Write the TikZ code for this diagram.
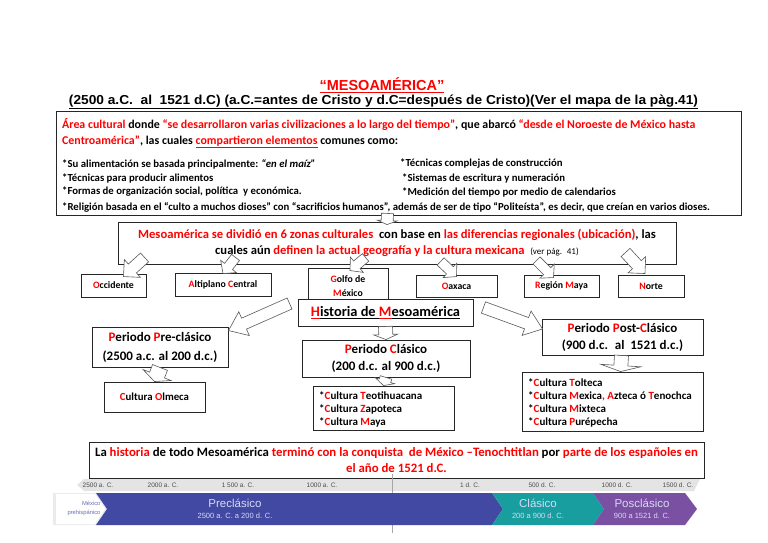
\documentclass[tikz,border=0pt]{standalone}
\usepackage{fontspec}
\usepackage{graphicx}
\setmainfont{Carlito}
\newfontfamily\arialfont{Liberation Sans}
\usetikzlibrary{calc}

\definecolor{azulpre}{RGB}{66,73,162}
\definecolor{verdecla}{RGB}{25,158,160}
\definecolor{moradopos}{RGB}{122,80,163}
\definecolor{grisfranja}{RGB}{228,228,228}
\definecolor{textobanda}{RGB}{214,218,245}

\newcommand{\rd}[1]{\textcolor{red}{#1}}
\newcommand{\fsmain}{\bfseries\fontsize{11.9}{14}\selectfont}
\newcommand{\fsbul}{\bfseries\fontsize{10.75}{12}\selectfont}
\newcommand{\fslista}{\bfseries\fontsize{11}{12}\selectfont}
% hollow block arrow: tail, tip, shaft half width, head half width, head length
\newcommand{\hollowarrow}[5]{%
  \draw[flecha] let \p1=(#1), \p2=(#2),
      \n1={atan2(\y2-\y1,\x2-\x1)}, \n2={veclen(\x2-\x1,\y2-\y1)} in
    [shift={(\p1)}, rotate=\n1]
    (0,#3) -- ({\n2-#5},#3) -- ({\n2-#5},#4) -- (\n2,0)
    -- ({\n2-#5},-#4) -- ({\n2-#5},-#3) -- (0,-#3) -- cycle;
}

\tikzset{
  box/.style={draw=black!85, line width=0.9pt, fill=white, inner sep=0pt,
    align=center, font=\bfseries\fontsize{9.8}{12}\selectfont},
  periodo/.style={box, font=\bfseries\fontsize{13}{17}\selectfont},
  txt/.style={inner sep=0pt, anchor=west},
  flecha/.style={draw=black!65, fill=white, line width=0.6pt},
  tl/.style={inner sep=0pt, text=black!70, font=\arialfont\fontsize{6.5}{7}\selectfont},
  banda/.style={inner sep=0pt, text=textobanda, align=center},
}

\begin{document}
\begin{tikzpicture}[x=1pt, y=-1pt]
\useasboundingbox (0,0) rectangle (768,543);

% Title
\node[inner sep=0pt, text=red, font=\arialfont\bfseries\fontsize{14.5}{16}\selectfont]
  (titulo) at (382,85) {\underline{“MESOAMÉRICA”}};
\node[inner sep=0pt, font=\arialfont\bfseries\fontsize{13}{15}\selectfont]
  (subtitulo) at (383.5,102) {\resizebox{629pt}{\height}{\underline{(2500 a.C.~ al~ 1521 d.C) (a.C.=antes de Cristo y d.C=después de Cristo)(Ver el mapa de la pàg.41)}}};

% Cultural area
\node[box, minimum width=685, minimum height=104] (area) at (398.5,163) {};
\node[txt, font=\fsmain] (l1) at (62,125) {\rd{Área cultural} donde \rd{“se desarrollaron varias civilizaciones a lo largo del tiempo”}, que abarcó \rd{“desde el Noroeste de México hasta}};
\node[txt, font=\fsmain] (l2) at (62,142) {\rd{Centroamérica”}, las cuales \rd{\underline{compartieron elementos}} comunes como:};
\node[txt, font=\fsbul] (b1) at (62,164) {*Su alimentación se basada principalmente: \textit{“en el maíz”}};
\node[txt, font=\fsbul] (b2) at (62,178) {*Técnicas para producir alimentos};
\node[txt, font=\fsbul] (b3) at (62,192) {*Formas de organización social, política~ y económica.};
\node[txt, font=\fsbul] (b4) at (62,207) {*Religión basada en el “culto a muchos dioses” con “sacrificios humanos”, además de ser de tipo “Politeísta”, es decir, que creían en varios dioses.};
\node[txt, font=\fsbul] (b5) at (400,164) {*Técnicas complejas de construcción};
\node[txt, font=\fsbul] (b6) at (402,178) {*Sistemas de escritura y numeración};
\node[txt, font=\fsbul] (b7) at (402,192) {*Medición del tiempo por medio de calendarios};

% Six cultural zones
\node[box, minimum width=558, minimum height=42, font=\bfseries\fontsize{12.6}{16}\selectfont, align=center] (zonas) at (397,243)
  {\rd{Mesoamérica se dividió en 6 zonas culturales}~ con base en \rd{las diferencias regionales (ubicación)}, las\\
   cuales aún \rd{definen la actual geografía y la cultura mexicana}~ {\mdseries\fontsize{9}{10}\selectfont(ver pág.~ 41)}};
\hollowarrow{$(area.south)+(-11,-2)$}{$(zonas.north)+(-10,3)$}{6}{10}{4}

\node[box, minimum width=65, minimum height=23] (occ) at (113.5,285.5) {\rd{O}ccidente};
\node[box, minimum width=96, minimum height=23] (alt) at (223,284.5) {\rd{A}ltiplano \rd{C}entral};
\node[box, minimum width=80, minimum height=36, font=\bfseries\fontsize{9.8}{14}\selectfont] (golfo) at (348,286) {\rd{G}olfo de\\\rd{M}éxico};
\node[box, minimum width=81, minimum height=22] (oax) at (456.5,286) {\rd{O}axaca};
\node[box, minimum width=75, minimum height=22] (maya) at (561.5,286) {\rd{R}egión \rd{M}aya};
\node[box, minimum width=66, minimum height=22] (norte) at (651,286) {\rd{N}orte};

\hollowarrow{$(zonas.south west)+(27,-7)$}{$(occ.north)+(10,3)$}{6}{12}{12}
\hollowarrow{$(zonas.south west)+(118,-7)$}{$(alt.north)+(0,1)$}{5}{10}{9}
\hollowarrow{$(zonas.south west)+(248,-7)$}{$(golfo.north)+(2,3)$}{5}{10}{9}
\hollowarrow{$(zonas.south west)+(323,-3)$}{$(oax.north)+(0,2)$}{5}{10}{9}
\hollowarrow{$(zonas.south west)+(419,-4)$}{$(maya.north)+(-8,3)$}{5}{10}{9}
\hollowarrow{$(zonas.south west)+(508,-12)$}{$(norte.north)+(-6,-1)$}{6}{12}{12}

% History
\node[box, minimum width=175, minimum height=27, font=\bfseries\fontsize{14.4}{18}\selectfont] (hist) at (385.5,312.5)
  {\rd{\underline{H}}\underline{istoria de }\rd{\underline{M}}\underline{esoamérica}};

\node[periodo, minimum width=136, minimum height=40, font=\bfseries\fontsize{13}{19}\selectfont] (pre) at (160,347) {\rd{P}eriodo \rd{P}re-clásico\\(2500 a.c. al 200 d.c.)};
\node[box, minimum width=101, minimum height=30, font=\bfseries\fontsize{10.8}{14}\selectfont] (olmeca) at (154.5,397) {\rd{C}ultura \rd{O}lmeca};

\node[periodo, minimum width=168, minimum height=37] (clas) at (386,358.5) {\rd{P}eriodo \rd{C}lásico\\(200 d.c. al 900 d.c.)};
\node[box, minimum width=141, minimum height=44] (claslista) at (383.5,408) {};
\node[txt, font=\fslista] (c1) at (319,396) {*\rd{C}ultura \rd{T}eotihuacana};
\node[txt, font=\fslista] (c2) at (319,409) {*\rd{C}ultura \rd{Z}apoteca};
\node[txt, font=\fslista] (c3) at (319,422) {*\rd{C}ultura \rd{M}aya};

\node[periodo, minimum width=161, minimum height=36] (post) at (622.5,337) {\rd{P}eriodo \rd{P}ost-\rd{C}lásico\\(900 d.c.~ al~ 1521 d.c.)};
\node[box, minimum width=181, minimum height=59] (postlista) at (612.5,401.5) {};
\node[txt, font=\fslista] (p1) at (528,383) {*\rd{C}ultura \rd{T}olteca};
\node[txt, font=\fslista] (p2) at (528,396) {*\rd{C}ultura \rd{M}exica\rd{,} \rd{A}zteca ó \rd{T}enochca};
\node[txt, font=\fslista] (p3) at (528,409) {*\rd{C}ultura \rd{M}ixteca};
\node[txt, font=\fslista] (p4) at (528,422) {*\rd{C}ultura \rd{P}urépecha};

\hollowarrow{$(hist.west)+(-8,-9)$}{$(pre.north east)+(0,4)$}{6}{13}{17}
\hollowarrow{$(hist.east)+(10,-5)$}{$(post.west)+(1,-8)$}{6}{13}{17}
\hollowarrow{hist.south}{clas.north}{7}{12}{5}
\hollowarrow{pre.south}{olmeca.north}{8}{15}{7}
\hollowarrow{clas.south}{claslista.north}{6}{10}{5}
\hollowarrow{$(post.south)+(-1,0)$}{$(postlista.north)+(8,0)$}{7}{20}{6}

% End of history
\node[box, minimum width=615, minimum height=36, font=\bfseries\fontsize{12.8}{16}\selectfont] (fin) at (396.5,460)
  {La \rd{historia} de todo Mesoamérica \rd{terminó con la conquista~ de México –Tenochtitlan} por \rd{parte de los españoles en}\\\rd{el año de 1521 d.C.}};

% Timeline
\fill[grisfranja] (77,485) -- (84,479) -- (700,479) -- (694,491) -- (84,491) -- cycle;
\draw[black!35, line width=0.4pt] (392,474) -- (392,533);
\fill[black!8] (53,493) -- (96,493) -- (107,509) -- (96,525) -- (53,525) -- cycle;
\fill[white] (56,494) -- (95,494) -- (105,509) -- (95,524) -- (56,524) -- cycle;
\fill[azulpre] (96,493) -- (492,493) -- (503,509) -- (492,525) -- (96,525) -- (107,509) -- cycle;
\fill[verdecla] (492,493) -- (593,493) -- (604,509) -- (593,525) -- (492,525) -- (503,509) -- cycle;
\fill[moradopos] (593,493) -- (685,493) -- (697,509) -- (685,525) -- (593,525) -- (604,509) -- cycle;

\node[tl] (t1) at (98,485) {2500 a. C.};
\node[tl] (t2) at (163,485) {2000 a. C.};
\node[tl] (t3) at (238,485) {1 500 a. C.};
\node[tl] (t4) at (322,485) {1000 a. C.};
\node[tl] (t5) at (470,485) {1 d. C.};
\node[tl] (t6) at (542,485) {500 d. C.};
\node[tl] (t7) at (617,485) {1000 d. C.};
\node[tl] (t8) at (678,485) {1500 d. C.};

\node[inner sep=0pt, text=azulpre!80, align=right, font=\arialfont\fontsize{5.8}{9}\selectfont] (mex) at (84,508) {México\\prehispánico};
\node[banda] (preclas) at (235,503) {\arialfont\fontsize{11.5}{12}\selectfont Preclásico};
\node[banda] (preclasf) at (235,516) {\arialfont\fontsize{7.5}{8}\selectfont 2500 a. C. a 200 d. C.};
\node[banda] (clasb) at (538,503) {\arialfont\fontsize{11.5}{12}\selectfont Clásico};
\node[banda] (clasbf) at (538,516) {\arialfont\fontsize{7.5}{8}\selectfont 200 a 900 d. C.};
\node[banda] (posb) at (642,503) {\arialfont\fontsize{11.5}{12}\selectfont Posclásico};
\node[banda] (posbf) at (642,516) {\arialfont\fontsize{7.5}{8}\selectfont 900 a 1521 d. C.};
\end{tikzpicture}
\end{document}
